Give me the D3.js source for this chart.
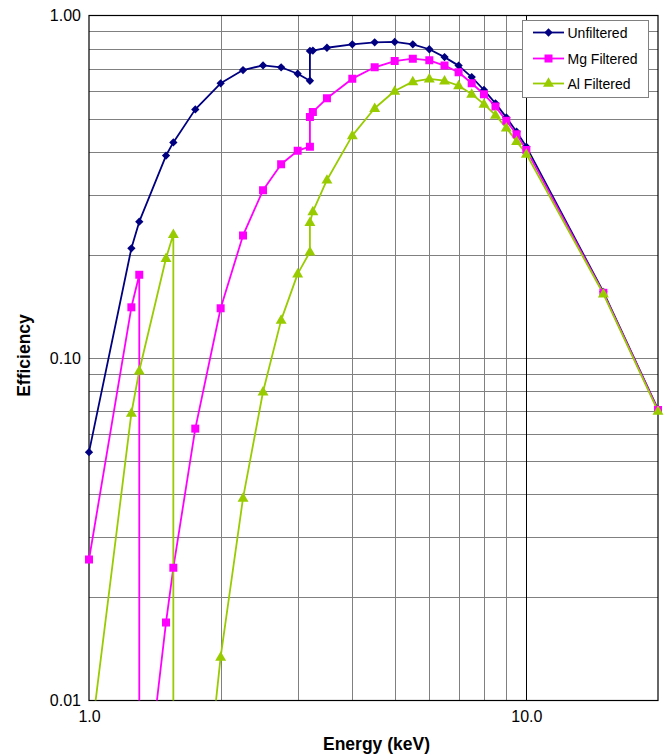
<!DOCTYPE html>
<html>
<head>
<meta charset="utf-8">
<script src="https://cdn.jsdelivr.net/npm/d3@7"></script>
<style>
  html, body { margin: 0; padding: 0; background: #fff; }
  svg { display: block; font-family: "Liberation Sans", Arial, sans-serif; }
</style>
</head>
<body>
<svg id="chart" width="665" height="754"></svg>
<script>
// ---- data ----
const seriesNames = ["Unfiltered", "Mg Filtered", "Al Filtered"];

const unfilteredEnergy = [1.0, 1.25, 1.303, 1.5, 1.559, 1.75, 2.0, 2.25, 2.5, 2.75, 3.0, 3.2, 3.2, 3.25, 3.5, 4.0, 4.5, 5.0, 5.5, 6.0, 6.5, 7.0, 7.5, 8.0, 8.5, 9.0, 9.5, 10.0, 15.0, 20.0];
const unfilteredEff = [0.0531, 0.209, 0.25, 0.39, 0.426, 0.532, 0.634, 0.693, 0.715, 0.706, 0.676, 0.645, 0.788, 0.79, 0.805, 0.824, 0.835, 0.837, 0.824, 0.797, 0.756, 0.714, 0.661, 0.606, 0.554, 0.504, 0.458, 0.414, 0.156, 0.0708];

const mgEnergy = [1.0, 1.25, 1.303, 1.303, 1.5, 1.559, 1.75, 2.0, 2.25, 2.5, 2.75, 3.0, 3.2, 3.2, 3.25, 3.5, 4.0, 4.5, 5.0, 5.5, 6.0, 6.5, 7.0, 7.5, 8.0, 8.5, 9.0, 9.5, 10.0, 15.0, 20.0];
const mgEff = [0.0258, 0.1406, 0.175, 0.0036, 0.0169, 0.0244, 0.0622, 0.1397, 0.228, 0.309, 0.368, 0.403, 0.414, 0.505, 0.523, 0.573, 0.654, 0.706, 0.736, 0.748, 0.740, 0.714, 0.683, 0.634, 0.589, 0.542, 0.493, 0.450, 0.405, 0.155, 0.0705];

const alEnergy = [1.0, 1.25, 1.303, 1.5, 1.559, 1.559, 1.75, 2.0, 2.25, 2.5, 2.75, 3.0, 3.2, 3.2, 3.25, 3.5, 4.0, 4.5, 5.0, 5.5, 6.0, 6.5, 7.0, 7.5, 8.0, 8.5, 9.0, 9.5, 10.0, 15.0, 20.0];
const alEff = [0.007, 0.069, 0.0918, 0.1955, 0.2297, 0.0007, 0.0027, 0.0134, 0.039, 0.0797, 0.129, 0.176, 0.204, 0.249, 0.2675, 0.331, 0.446, 0.536, 0.602, 0.641, 0.653, 0.645, 0.624, 0.590, 0.551, 0.512, 0.470, 0.429, 0.394, 0.154, 0.0700];

const xTickValues = [1, 10];
const xTickLabels = ["1.0", "10.0"];
const yTickValues = [0.01, 0.1, 1];
const yTickLabels = ["0.01", "0.10", "1.00"];
const xGridValues = [2, 3, 4, 5, 6, 7, 8, 9, 10];
const yGridValues = [0.02, 0.03, 0.04, 0.05, 0.06, 0.07, 0.08, 0.09, 0.1, 0.2, 0.3, 0.4, 0.5, 0.6, 0.7, 0.8, 0.9];
const xTitle = "Energy (keV)";
const yTitle = "Efficiency";

// ---- layout ----
const L = 89, R = 658, T = 15.5, B = 700.5;
const svg = d3.select("#chart");
const x = d3.scaleLog().domain([1, 20]).range([L, R]);
const y = d3.scaleLog().domain([0.01, 1]).range([B, T]);

// gridlines
const grid = svg.append("g");
grid.selectAll("line.h").data(yGridValues).join("line")
  .attr("x1", L).attr("x2", R)
  .attr("y1", d => Math.round(y(d)) + 0.5).attr("y2", d => Math.round(y(d)) + 0.5)
  .attr("stroke", "#808080").attr("stroke-width", 1);
grid.selectAll("line.v").data(xGridValues).join("line")
  .attr("y1", T).attr("y2", B)
  .attr("x1", d => Math.round(x(d)) + 0.5).attr("x2", d => Math.round(x(d)) + 0.5)
  .attr("stroke", d => d === 10 ? "#000" : "#808080").attr("stroke-width", 1);

// plot border
svg.append("rect").attr("x", L).attr("y", T).attr("width", R - L).attr("height", B - T)
  .attr("fill", "none").attr("stroke", "#000").attr("stroke-width", 1.2);

// axes (labels only, no tick marks)
const xAxis = d3.axisBottom(x).tickValues(xTickValues).tickSize(0).tickPadding(10)
  .tickFormat((d, i) => xTickLabels[i]);
const gx = svg.append("g").attr("transform", `translate(0,${B})`).call(xAxis);
gx.select(".domain").remove();
gx.selectAll("text").attr("font-size", 16).attr("fill", "#000")
  .attr("font-family", "Liberation Sans, Arial, sans-serif");

const yAxis = d3.axisLeft(y).tickValues(yTickValues).tickSize(0).tickPadding(8)
  .tickFormat((d, i) => yTickLabels[i]);
const gy = svg.append("g").attr("transform", `translate(${L},0)`).call(yAxis);
gy.select(".domain").remove();
gy.selectAll("text").attr("font-size", 16).attr("fill", "#000")
  .attr("font-family", "Liberation Sans, Arial, sans-serif");

// axis titles
svg.append("text").attr("x", 376.5).attr("y", 750).attr("text-anchor", "middle")
  .attr("font-size", 17.5).attr("font-weight", "bold").text(xTitle);
svg.append("text").attr("transform", "translate(30,355.5) rotate(-90)").attr("text-anchor", "middle")
  .attr("font-size", 17.5).attr("font-weight", "bold").text(yTitle);

// clip (lines and markers stop at the bottom axis; markers may overhang the sides)
svg.append("clipPath").attr("id", "plotclip").append("rect")
  .attr("x", L - 7).attr("y", T - 7).attr("width", R - L + 14).attr("height", B - T + 7);

const series = [
  { name: seriesNames[0], xs: unfilteredEnergy, ys: unfilteredEff, color: "#000080", shape: "diamond" },
  { name: seriesNames[1], xs: mgEnergy, ys: mgEff, color: "#FF00FF", shape: "square" },
  { name: seriesNames[2], xs: alEnergy, ys: alEff, color: "#99CC00", shape: "triangle" }
];

const symbolFor = {
  diamond: d3.symbol().type(d3.symbolDiamond2 || d3.symbolDiamond).size(44),
  square: d3.symbol().type(d3.symbolSquare).size(64),
  triangle: d3.symbol().type(d3.symbolTriangle).size(52)
};

const line = d3.line().x(d => x(d[0])).y(d => y(d[1]));
const plot = svg.append("g").attr("clip-path", "url(#plotclip)");

series.forEach(s => {
  const pts = s.xs.map((e, i) => [e, s.ys[i]]);
  plot.append("path").datum(pts).attr("d", line)
    .attr("fill", "none").attr("stroke", s.color).attr("stroke-width", 1.8)
    .attr("stroke-linejoin", "round");
});
series.forEach(s => {
  const pts = s.xs.map((e, i) => [e, s.ys[i]]).filter(p => p[1] >= 0.0099);
  plot.selectAll(null).data(pts).join("path")
    .attr("transform", d => `translate(${x(d[0])},${y(d[1]) + (s.shape === "triangle" ? 0.5 : 0)})`)
    .attr("d", symbolFor[s.shape]())
    .attr("fill", s.color).attr("stroke", "none");
});

// legend
const lg = svg.append("g");
lg.append("rect").attr("x", 522.5).attr("y", 20.5).attr("width", 126).attr("height", 77)
  .attr("fill", "#fff").attr("stroke", "#808080").attr("stroke-width", 1);
const rowY = [32.5, 58.5, 83.5];
series.forEach((s, i) => {
  lg.append("line").attr("x1", 533).attr("x2", 564).attr("y1", rowY[i]).attr("y2", rowY[i])
    .attr("stroke", s.color).attr("stroke-width", 1.8);
  lg.append("path").attr("transform", `translate(548.5,${rowY[i]})`)
    .attr("d", symbolFor[s.shape]()).attr("fill", s.color);
  lg.append("text").attr("x", 567.5).attr("y", rowY[i] + 5).attr("font-size", 14)
    .attr("fill", "#000").text(s.name);
});
</script>
</body>
</html>
